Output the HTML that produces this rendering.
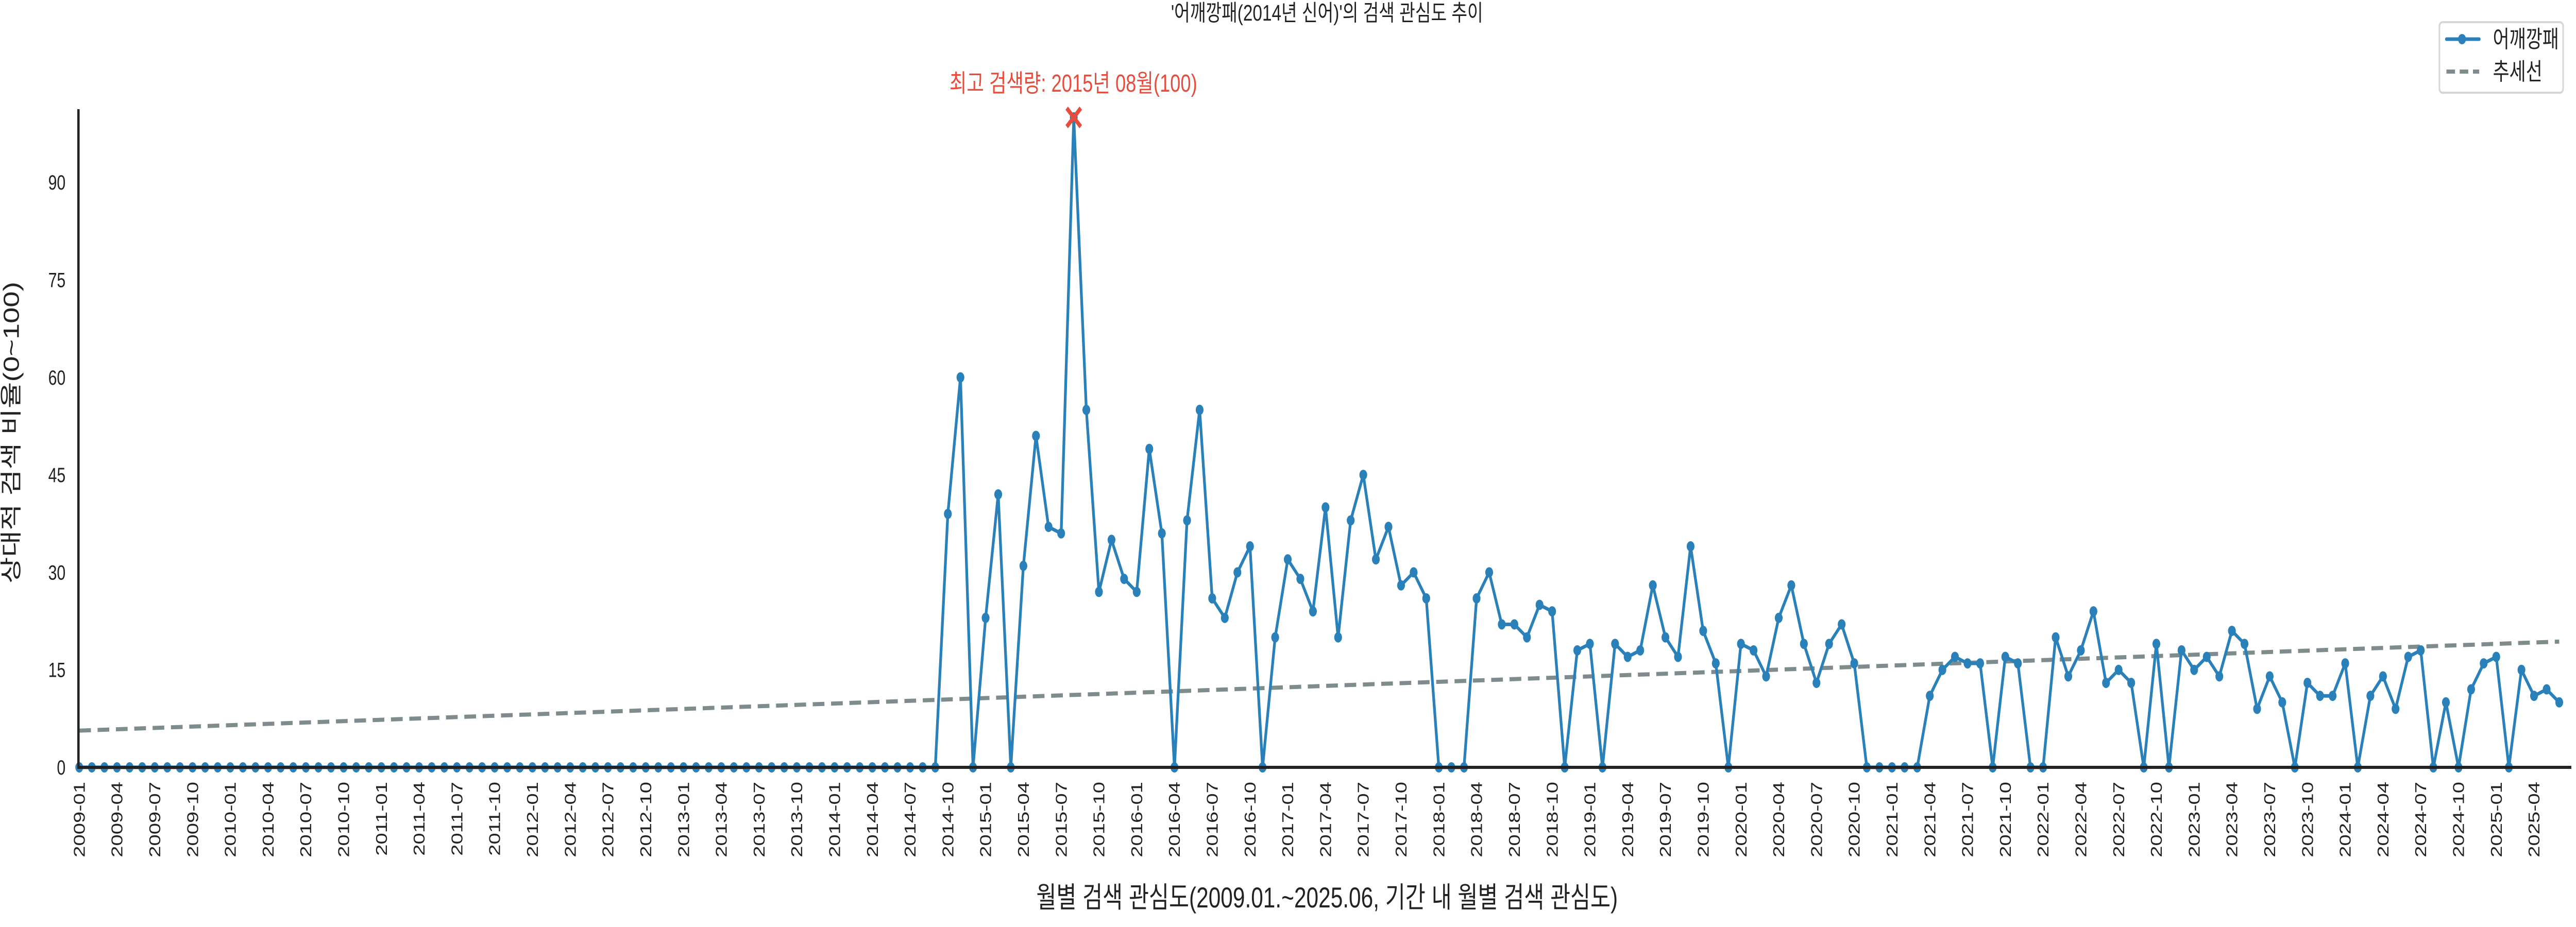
<!DOCTYPE html>
<html><head><meta charset="utf-8">
<style>
html,body{margin:0;padding:0;background:#fff;overflow:hidden;width:100%;height:100%;}
svg{display:block;width:100vw;height:100vh;font-family:"Liberation Sans","Noto Sans CJK KR",sans-serif;}
</style></head>
<body>
<svg id="chart" viewBox="0 0 6600 1800" preserveAspectRatio="none">
<text x="3400" y="40" font-size="44" text-anchor="middle" fill="#222">'어깨깡패(2014년 신어)'의 검색 관심도 추이</text>
<g id="plot"></g>
<text x="2750" y="178" font-size="48" text-anchor="middle" fill="#e74c3c">최고 검색량: 2015년 08월(100)</text>
<text x="3400" y="1762" font-size="56" text-anchor="middle" fill="#222">월별 검색 관심도(2009.01.~2025.06, 기간 내 월별 검색 관심도)</text>
<text transform="translate(48,840) rotate(-90)" font-size="56" text-anchor="middle" fill="#222">상대적 검색 비율(0~100)</text>
<g>
<rect x="6250" y="43" width="317" height="137" rx="8" fill="#fff" stroke="#d6d6d6" stroke-width="4"/>
<g>
<line x1="6268" y1="76" x2="6352" y2="76" stroke="#2a80b9" stroke-width="7" stroke-linecap="round"/>
<circle cx="6308" cy="76" r="10" fill="#2a80b9"/>
<text x="6387" y="92" font-size="46" fill="#222">어깨깡패</text>
</g>
<g>
<line x1="6268" y1="139" x2="6352" y2="139" stroke="#7f8c8d" stroke-width="8" stroke-dasharray="22,12"/>
<text x="6387" y="155" font-size="46" fill="#222">추세선</text>
</g>
</g>
</svg>
<script>
const startYear = 2009;
const zeroMonths = 69;
const values2014Oct = [39,60,0,23,42,0,31,51,37,36,100,55,27,35,29,27,49,36,0,38,55,26,23,30,34,0,20,32,29,24,40,20,38,45,32,37,28,30,26,0,0,0,26,30,22,22,20,25,24,0,18,19,0,19,17,18,28,20,17,34,21,16,0,19,18,14,23,28,19,13,19,22,16,0,0,0,0,0,11,15,17,16,16,0,17,16,0,0,20,14,18,24,13,15,13,0,19,0,18,15,17,14,21,19,9,14,10,0,13,11,11,16,0,11,14,9,17,18,0,10,0,12,16,17,0,15,11,12,10];
const yTicks = [0,15,30,45,60,75,90];
const peakLabel = "최고 검색량: 2015년 08월(100)";

const values = new Array(zeroMonths).fill(0).concat(values2014Oct);
const labels = values.map((v,i)=>{const y=startYear+Math.floor(i/12);const m=i%12+1;return y+'-'+(m<10?'0':'')+m;});
const NS='http://www.w3.org/2000/svg';
const plot=document.getElementById('plot');
const X0=203, X1=6557, Y0=1490, PXU=12.62;
const n=values.length;
function sx(i){return X0+(X1-X0)*i/(n-1);}
function sy(v){return Y0-v*PXU;}
function mk(tag,attrs,parent){const e=document.createElementNS(NS,tag);for(const k in attrs)e.setAttribute(k,attrs[k]);(parent||plot).appendChild(e);return e;}

yTicks.forEach(t=>{
  const tx=mk('text',{x:168,y:sy(t)+14,'font-size':40,'text-anchor':'end',fill:'#222'});
  tx.textContent=t;
  
  
});
labels.forEach((l,i)=>{
  if(i%3!==0)return;
  const x=sx(i);
  const tx=mk('text',{transform:'translate('+(x+14)+',1518) rotate(-90)','font-size':40,'text-anchor':'end',fill:'#222'});
  tx.textContent=l;
  
  
});
let sxm=0,sym=0;values.forEach((v,i)=>{sxm+=i;sym+=v;});sxm/=n;sym/=n;
let num=0,den=0;values.forEach((v,i)=>{num+=(i-sxm)*(v-sym);den+=(i-sxm)*(i-sxm);});
const slope=num/den, icpt=sym-slope*sxm;
const trend=mk('line',{x1:sx(0),y1:sy(icpt),x2:sx(n-1),y2:sy(icpt+slope*(n-1)),stroke:'#7f8c8d','stroke-width':8,'stroke-dasharray':'30,17'});


const pts=values.map((v,i)=>sx(i).toFixed(1)+','+sy(v).toFixed(1)).join(' ');
const line=mk('polyline',{points:pts,fill:'none',stroke:'#2a80b9','stroke-width':7,'stroke-linejoin':'round'});


values.forEach((v,i)=>{
  const c=mk('circle',{cx:sx(i),cy:sy(v),r:10,fill:'#2a80b9'});
  
  
});
const ax=mk('line',{x1:201,y1:212,x2:201,y2:Y0+2,stroke:'#222','stroke-width':6});


const bx=mk('line',{x1:198,y1:Y0,x2:6588,y2:Y0,stroke:'#222','stroke-width':6});


let pk=0;values.forEach((v,i)=>{if(v>values[pk])pk=i;});
const px=sx(pk), py=sy(values[pk]);
const pm=mk('path',{d:'M'+(px-18)+','+(py-18)+'L'+(px+18)+','+(py+18)+'M'+(px+18)+','+(py-18)+'L'+(px-18)+','+(py+18),stroke:'#e74c3c','stroke-width':9});


</script>
</body></html>
